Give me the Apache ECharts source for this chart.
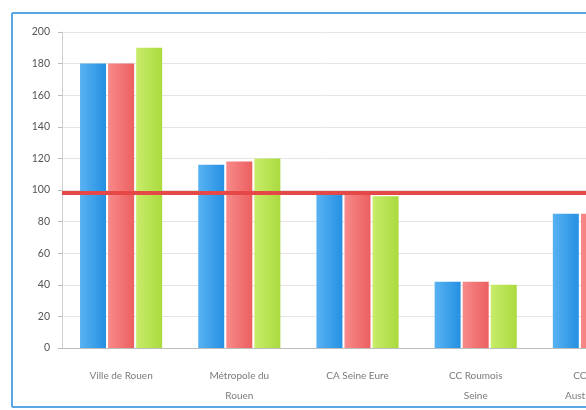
<!DOCTYPE html>
<html>
<head>
<meta charset="utf-8">
<script src="https://cdn.jsdelivr.net/npm/echarts@6/dist/echarts.min.js"></script>
<style>
  html, body { margin: 0; padding: 0; background: #fff; }
  #main { width: 586px; height: 410px; }
</style>
</head>
<body>
<div id="main"></div>
<script>
  // categories (the last one is cut off by the right edge)
  var communes = ['Ville de Rouen', 'Métropole du\nRouen', 'CA Seine Eure', 'CC Roumois\nSeine', 'CC Caux-\nAustreberthe'];
  // three series, blue / red / green
  var serieBleue = [180, 116, 97, 42, 85];
  var serieRouge = [180, 118, 97, 42, 85];
  var serieVerte = [190, 120, 96, 40, 84];
  // red reference line
  var seuil = 98;
  var yTicks = [0, 200, 20];

  function barColor(c1, c2) {
    return new echarts.graphic.LinearGradient(0, 0, 1, 0, [
      { offset: 0, color: c1 },
      { offset: 1, color: c2 }
    ]);
  }

  // frame of the chart area: top, left and bottom only (right side is cut off)
  function frameLine(x1, y1, x2, y2) {
    return {
      type: 'line',
      shape: { x1: x1, y1: y1, x2: x2, y2: y2 },
      style: { stroke: '#58a6e4', lineWidth: 2 },
      z: 0
    };
  }

  var chart = echarts.init(document.getElementById('main'));
  var option = {
    backgroundColor: '#fff',
    textStyle: { fontFamily: 'Lato' },
    animation: false,
    graphic: [
      frameLine(12, 13, 600, 13),
      frameLine(12, 13, 12, 407),
      frameLine(12, 407, 600, 407)
    ],
    // the plot runs on past the right edge of the picture
    grid: { left: 62, top: 32, width: 591, height: 316, outerBoundsMode: 'none' },
    xAxis: {
      type: 'category',
      data: communes,
      axisLine: { lineStyle: { color: '#bdbdbd' } },
      axisTick: { show: false },
      axisLabel: { color: '#7a7a7a', fontSize: 10, margin: 18, lineHeight: 20, interval: 0 }
    },
    yAxis: {
      type: 'value',
      min: yTicks[0],
      max: yTicks[1],
      interval: yTicks[2],
      axisLine: { show: true, lineStyle: { color: '#d0d0d0' } },
      axisTick: { show: true, length: 4, lineStyle: { color: '#bbb' } },
      axisLabel: { color: '#555', fontSize: 10.5, margin: 12 },
      splitLine: { lineStyle: { color: '#e4e4e4' } }
    },
    series: [
      {
        type: 'bar',
        data: serieBleue,
        barWidth: 26,
        barGap: '8%',
        itemStyle: { color: barColor('#58b2f2', '#2590e2') },
        markLine: {
          silent: true,
          symbol: 'none',
          label: { show: false },
          lineStyle: { color: '#e64848', width: 4, type: 'solid' },
          data: [{ yAxis: seuil }],
          z: 10
        }
      },
      {
        type: 'bar',
        data: serieRouge,
        barWidth: 26,
        barGap: '8%',
        itemStyle: { color: barColor('#f88a8a', '#ec5f5f') }
      },
      {
        type: 'bar',
        data: serieVerte,
        barWidth: 26,
        barGap: '8%',
        itemStyle: { color: barColor('#c8ec6a', '#a9da3e') }
      }
    ]
  };
  chart.setOption(option);
</script>
</body>
</html>
